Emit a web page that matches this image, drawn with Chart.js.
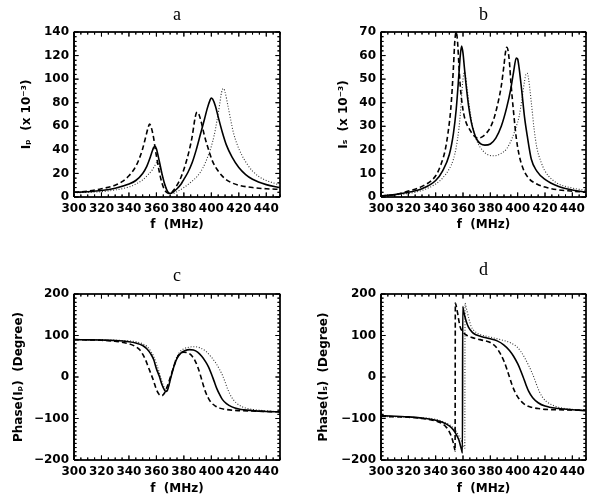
<!DOCTYPE html>
<html><head><meta charset="utf-8">
<script src="https://cdn.jsdelivr.net/npm/chart.js@4.4.1/dist/chart.umd.min.js"></script>
<style>
html,body{margin:0;padding:0;background:#fff;}
#wrap{position:relative;width:600px;height:503px;background:#fff;}
canvas{position:absolute;}
</style></head><body>
<div id="wrap">
<canvas id="ca" width="300" height="250" style="left:0;top:0"></canvas>
<canvas id="cb" width="300" height="250" style="left:300px;top:0"></canvas>
<canvas id="cc" width="300" height="253" style="left:0;top:250px"></canvas>
<canvas id="cd" width="300" height="253" style="left:300px;top:250px"></canvas>
</div>
<script>
// ---------- tick labels ----------
const xTicks = [300,320,340,360,380,400,420,440];
const yTicksA = [0,20,40,60,80,100,120,140];
const yTicksB = [0,10,20,30,40,50,60,70];
const yTicksPhase = [-200,-100,0,100,200];

// ---------- panel a : Ip (x 10^-3) ----------
const aSolidF  = [300,310,320,330,340,345,350,353,355,357,358,359,360,362,364,366,368,370,372,375,378,380,383,386,389,392,395,397,399,400,401,403,405,408,411,415,420,425,430,440,450];
const aSolidY  = [4,4.5,5.5,7.5,11,14,20,26,32,39,42,43,41,31,20,11,5,3,4,7,11,15,21,29,40,53,66,75,82,84,83,77,68,55,44,34,25,19,15,10.5,8];
const aDashF   = [300,310,320,330,335,340,344,347,350,352,354,355,356,358,359,360,362,364,366,368,370,372,375,378,381,384,386,388,389,390,391,393,395,398,401,405,410,415,420,430,440,450];
const aDashY   = [4,5,7,10,13,18,24,31,41,50,59,62,60,50,42,35,22,12,6,3.5,3,5,10,17,27,40,51,66,71,72,70,62,52,40,30,22,15.5,12,10,8,7,6.5];
const aDotF    = [300,310,320,330,340,345,350,354,357,359,360,361,362,364,366,368,370,372,375,380,385,390,394,397,400,402,404,406,407,408,409,410,412,414,416,419,422,426,430,435,440,445,450];
const aDotY    = [3.5,4,4.5,6,8.5,11,14.5,19,23,27,29,29,27,19,11,5,3,3,4.5,8,12.5,18,25,33,43,52,64,78,86,91,92,89,78,66,55,44,36,28,22,17,14,12,10];

// ---------- panel b : Is (x 10^-3) ----------
const bSolidF  = [300,310,320,330,340,345,350,353,355,357,358,359,360,361,362,364,366,368,370,373,376,380,384,388,392,395,397,399,400,401,403,405,407,410,414,420,430,440,450];
const bSolidY  = [0.5,1,2,3.5,7,11,18,27,37,52,60,64,61,55,49,39,32,27.5,24.5,22.5,22,22.5,25,30,38,46,53,59,58.5,55,45,34,26,16,11,7.5,4.5,3,2];
const bDashF   = [300,310,320,330,340,344,347,349,351,352,353,354,355,356,357,358,360,362,365,368,371,374,377,380,383,386,388,390,391,392,393,394,395,397,399,401,404,408,414,420,430,440,450];
const bDashY   = [0.5,1,2.5,4.5,9,14,20,27,37,45,55,66,70,66,56,47,37,32,28.5,26,25,25.5,27,29.5,34,41,47,56,61,63.5,62,57,49,36,25,18,12,8,5.5,4.2,3,2.5,2];
const bDotF    = [300,320,330,340,345,350,353,355,357,358,359,360,361,362,363,365,367,370,374,378,383,388,392,396,399,401,403,405,406,407,408,410,412,414,417,420,425,430,440,450];
const bDotY    = [0.5,1.5,2.8,5.5,8,12,16,21,29,35,43,50,53,51,46,37,30,24,20,18,17.5,18.5,20.5,25,30,34,41,49,52,52.5,50,40,29,21,15,11,7.5,5.5,3.8,2.8];

// ---------- panel c : Phase(Ip) (Degree) ----------
const cSolidF  = [300,310,320,330,340,345,350,353,356,358,360,362,364,366,367,368,369,370,371,373,375,378,381,384,387,390,393,396,398,400,402,404,406,408,411,415,420,430,440,450];
const cSolidY  = [90,89.5,89,88,85,82,76,68,55,42,20,3,-18,-32,-35,-32,-22,-8,5,28,45,58,64,66,65,60,50,36,24,8,-10,-28,-42,-54,-64,-72,-77,-81,-83,-84];
const cDashF   = [300,320,330,340,345,348,350,352,354,356,358,360,362,364,366,368,370,372,374,376,378,380,382,385,388,390,392,394,396,398,400,403,406,410,420,430,450];
const cDashY   = [90,88.5,86,80,73,65,55,42,25,8,-10,-30,-42,-45,-38,-22,-2,18,38,52,58,60,59,54,40,25,5,-18,-38,-52,-62,-70,-75,-78,-81,-82,-84];
const cDotF    = [300,320,340,345,350,353,356,358,360,362,364,366,367,368,369,370,372,374,377,380,384,388,392,396,400,403,406,408,410,412,415,418,422,428,435,450];
const cDotY    = [90,89.5,87,85,80,74,62,50,32,12,-10,-28,-33,-30,-20,-8,20,42,60,68,72,73,70,62,48,35,18,5,-12,-30,-50,-62,-71,-77,-80,-84];

// ---------- panel d : Phase(Is) (Degree) ----------
const dSolidF  = [300,320,330,340,345,350,353,355,357,358,359,359.6,359.8,360.5,362,364,367,370,375,380,385,390,394,397,400,402,404,406,408,411,415,420,430,440,450];
const dSolidY  = [-93,-96,-99,-104,-109,-118,-128,-138,-152,-164,-176,-183,170,158,138,120,107,101,96,92,87,77,64,50,32,17,0,-18,-34,-50,-62,-70,-76,-79,-81];
const dDashF   = [300,320,330,340,345,348,350,352,353,354,354.2,354.4,355,356,357,358,360,363,366,370,375,380,384,387,390,392,394,396,398,400,403,406,410,415,420,430,450];
const dDashY   = [-95,-97,-100,-106,-113,-122,-132,-148,-160,-175,-178,178,172,155,135,120,108,100,96,92,88,83,73,58,38,20,0,-20,-36,-48,-60,-68,-73,-76,-78,-79,-80];
const dDotF    = [300,320,340,345,350,353,355,357,359,360,361,361.3,361.5,362,363,364.5,366,368,372,376,380,385,390,395,399,402,405,408,410,412,414,416,418,421,425,430,440,450];
const dDotY    = [-95,-97,-102,-107,-115,-123,-131,-142,-155,-163,-170,-172,178,172,158,138,122,112,103,99,96,92,88,82,74,63,47,28,14,-2,-20,-36,-48,-59,-67,-73,-78,-80];

// ---------- rendering ----------
const X_MIN = 300, X_MAX = 450, X_MINOR = 5;
const MAJ = 4.5, MIN = 2.5;   // tick lengths in px
const pts = (f, y) => f.map((v, i) => ({x: v, y: y[i]}));
const steps = (a, b, s) => { const r = []; for (let v = a; v <= b + 1e-9; v += s) r.push(v); return r; };
const SOLID = {borderColor:'#000', borderWidth:1.6, borderDash:[]};
const DASH  = {borderColor:'#000', borderWidth:1.6, borderDash:[5,3]};
const DOT   = {borderColor:'#333', borderWidth:1.1, borderDash:[1,1.8]};
const STRAIGHT = {tension:0, cubicInterpolationMode:'default', clip:false, borderDash:[], borderColor:'#000',
                  borderJoinStyle:'bevel', borderCapStyle:'butt', pointRadius:0};

// the plot box, traced along the axis limits
function boxPath(p) {
  return [{x:X_MIN,y:p.yMin},{x:X_MAX,y:p.yMin},{x:X_MAX,y:p.yMax},{x:X_MIN,y:p.yMax},{x:X_MIN,y:p.yMin}];
}
// inward tick marks on all four sides, one continuous path running round the box
function tickPath(p) {
  const plotW = 300 - p.right - p.yW;
  const plotH = p.cH - p.xH - (p.tTop + 21.6 + p.tBot);
  const ux = (X_MAX - X_MIN) / plotW, uy = (p.yMax - p.yMin) / plotH;
  const xv = steps(X_MIN, X_MAX, X_MINOR), yv = steps(p.yMin, p.yMax, p.yMinor);
  const lx = v => (xTicks.includes(v) ? MAJ : MIN) * uy;
  const ly = v => (p.yTicks.includes(v) ? MAJ : MIN) * ux;
  const out = [];
  xv.forEach(v => out.push({x:v,y:p.yMin},{x:v,y:p.yMin + lx(v)},{x:v,y:p.yMin}));
  yv.forEach(v => out.push({x:X_MAX,y:v},{x:X_MAX - ly(v),y:v},{x:X_MAX,y:v}));
  xv.slice().reverse().forEach(v => out.push({x:v,y:p.yMax},{x:v,y:p.yMax - lx(v)},{x:v,y:p.yMax}));
  yv.slice().reverse().forEach(v => out.push({x:X_MIN,y:v},{x:X_MIN + ly(v),y:v},{x:X_MIN,y:v}));
  return out;
}

const fmt = v => v < 0 ? '\u2212' + Math.abs(v) : String(v);
const tickFont = {family:'DejaVu Sans', size:12, weight:'bold', lineHeight:1.2};

function makeChart(id, p) {
  new Chart(document.getElementById(id), {
    type: 'line',
    data: {datasets: [
      Object.assign({data: pts(p.s[0], p.s[1])}, SOLID),
      Object.assign({data: pts(p.d[0], p.d[1])}, DASH),
      Object.assign({data: pts(p.o[0], p.o[1])}, DOT),
      Object.assign({data: tickPath(p), borderWidth:1}, STRAIGHT),
      Object.assign({data: boxPath(p), borderWidth:1.5}, STRAIGHT)
    ]},
    options: {
      responsive:false, animation:false, devicePixelRatio:1,
      layout: {padding: {left:0, right:p.right, top:0, bottom:0}},
      elements: {point:{radius:0}, line:{cubicInterpolationMode:'monotone', fill:false}},
      plugins: {
        legend:{display:false}, tooltip:{enabled:false},
        title: {display:true, text:p.title, color:'#000', fullSize:false,
          font:{family:'Liberation Serif', size:18, lineHeight:1.2, weight:'normal'},
          padding:{top:p.tTop, bottom:p.tBot}}
      },
      scales: {
        x: {type:'linear', position:'bottom', min:X_MIN, max:X_MAX,
          afterBuildTicks: s => { s.ticks = xTicks.map(v => ({value:v})); },
          afterFit: s => { s.height = p.xH; },
          grid:{display:false, drawTicks:false}, border:{display:false},
          ticks:{padding:5, color:'#000', font:tickFont, maxRotation:0, minRotation:0, autoSkip:false},
          title:{display:true, text:'f  (MHz)', color:'#000', font:tickFont, padding:{top:0, bottom:p.xtPad}}
        },
        y: {type:'linear', position:'left', min:p.yMin, max:p.yMax,
          afterBuildTicks: s => { s.ticks = p.yTicks.map(v => ({value:v})); },
          afterFit: s => { s.width = p.yW; },
          grid:{display:false, drawTicks:false}, border:{display:false},
          ticks:{padding:5, color:'#000', font:tickFont, autoSkip:false, callback: v => fmt(v)},
          title:{display:true, text:p.yTitle, color:'#000', font:tickFont, padding:{top:p.ytPad, bottom:0}}
        }
      }
    }
  });
}

makeChart('ca', {title:'a', yTitle:'I\u209A  (x 10\u207B\u00B3)', yMin:0, yMax:140, yTicks:yTicksA, yMinor:4,
  s:[aSolidF,aSolidY], d:[aDashF,aDashY], o:[aDotF,aDotY],
  cH:250, right:20, yW:74, xH:53, tTop:4.2, tBot:6.2, ytPad:20, xtPad:18});
makeChart('cb', {title:'b', yTitle:'I\u209B  (x 10\u207B\u00B3)', yMin:0, yMax:70, yTicks:yTicksB, yMinor:2,
  s:[bSolidF,bSolidY], d:[bDashF,bDashY], o:[bDotF,bDotY],
  cH:250, right:14, yW:81, xH:53, tTop:4.2, tBot:6.2, ytPad:37, xtPad:18});
makeChart('cc', {title:'c', yTitle:'Phase(I\u209A)  (Degree)', yMin:-200, yMax:200, yTicks:yTicksPhase, yMinor:10,
  s:[cSolidF,cSolidY], d:[cDashF,cDashY], o:[cDotF,cDotY],
  cH:253, right:20, yW:74, xH:43, tTop:15.2, tBot:7.2, ytPad:12, xtPad:7.2});
makeChart('cd', {title:'d', yTitle:'Phase(I\u209B)  (Degree)', yMin:-200, yMax:200, yTicks:yTicksPhase, yMinor:10,
  s:[dSolidF,dSolidY], d:[dDashF,dDashY], o:[dDotF,dDotY],
  cH:253, right:14, yW:81, xH:43, tTop:9.2, tBot:13.2, ytPad:17, xtPad:7.2});
</script>
</body></html>
